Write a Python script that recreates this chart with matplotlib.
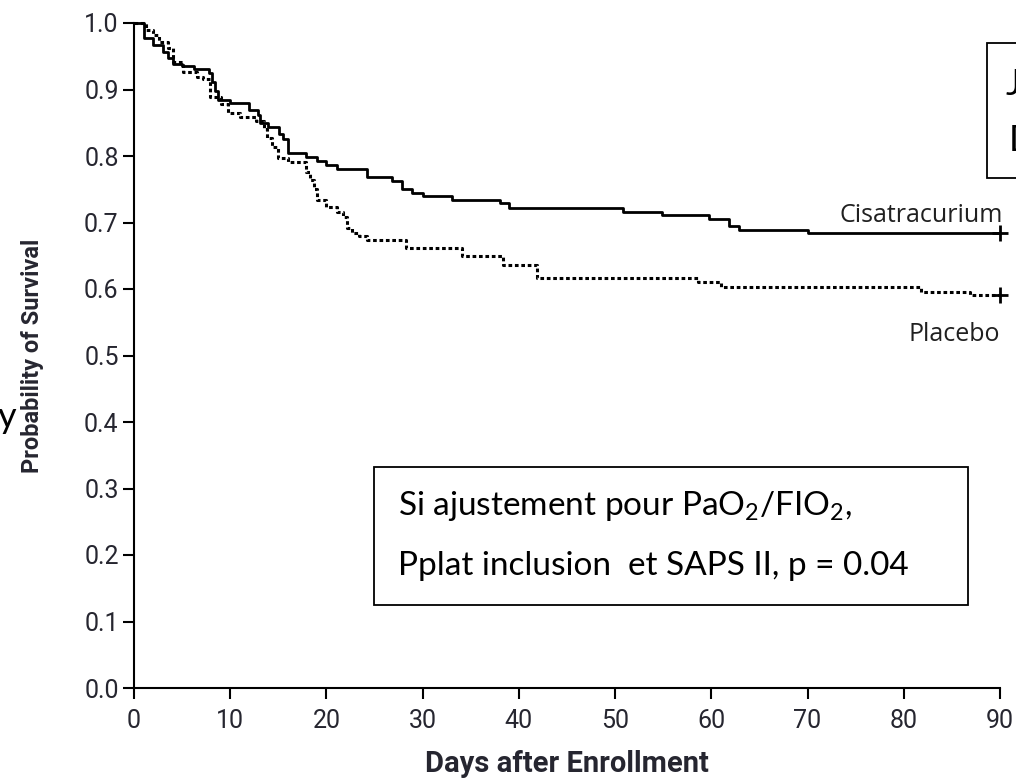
import matplotlib
matplotlib.use("Agg")
import matplotlib.pyplot as plt
from matplotlib.patches import Rectangle

plt.rcParams['mathtext.fontset'] = 'custom'
plt.rcParams['mathtext.rm'] = 'Lato'

# Kaplan-Meier steps (day, survival)
cisa_days = [0, 1.0, 2.0, 3.0, 3.5, 4.1, 5.0, 6.2, 7.8, 8.1, 8.4, 8.7, 10.0, 12.0, 12.9,
             13.1, 13.9, 15.1, 15.5, 16.0, 17.9, 19.0, 20.0, 21.1, 24.2, 26.8, 27.9,
             28.9, 30.0, 33.1, 38.0, 39.0, 50.8, 54.9, 59.8, 61.8, 62.9, 70.0, 90]
cisa_surv = [1.0, 0.977, 0.967, 0.957, 0.947, 0.939, 0.936, 0.931, 0.925, 0.912, 0.898,
             0.884, 0.880, 0.869, 0.862, 0.849, 0.844, 0.833, 0.826, 0.804, 0.799, 0.792,
             0.786, 0.780, 0.769, 0.762, 0.751, 0.745, 0.740, 0.734, 0.729, 0.722, 0.716,
             0.711, 0.706, 0.695, 0.689, 0.684, 0.684]

plac_days = [0, 1.2, 2.0, 2.6, 3.5, 4.1, 5.1, 6.5, 7.2, 7.9, 9.0, 9.8, 11.0, 12.7, 13.5,
             13.8, 14.3, 15.0, 16.0, 17.9, 18.3, 18.7, 19.0, 20.0, 21.1, 21.7, 22.1, 22.7,
             23.4, 24.2, 28.3, 34.1, 38.3, 41.9, 58.6, 61.0, 81.8, 86.9, 90]
plac_surv = [1.0, 0.989, 0.982, 0.972, 0.962, 0.942, 0.927, 0.919, 0.916, 0.889, 0.878,
             0.864, 0.859, 0.852, 0.840, 0.827, 0.814, 0.797, 0.791, 0.776, 0.764, 0.750,
             0.734, 0.724, 0.716, 0.709, 0.692, 0.684, 0.679, 0.674, 0.661, 0.649, 0.636,
             0.617, 0.611, 0.603, 0.596, 0.591, 0.591]

xticks = list(range(0, 91, 10))
yticks = [i / 10 for i in range(11)]
ytick_labels = ["%.1f" % v for v in yticks]

axis_font = ['Roboto', 'DejaVu Sans']
tick_col = '#262630'

fig = plt.figure(figsize=(10.16, 7.84), dpi=100)
ax = fig.add_axes([134 / 1016, 96 / 784, 866 / 1016, 665 / 784])

ax.step(cisa_days, cisa_surv, where='post', color='black', lw=2.0, clip_on=False)
ax.step(plac_days, plac_surv, where='post', color='black', lw=2.2,
        linestyle=(0, (1.2, 0.9)), clip_on=False)
ax.plot([cisa_days[-1]], [cisa_surv[-1]], marker='+', ms=11, mew=2, color='black', clip_on=False)
ax.plot([plac_days[-1]], [plac_surv[-1]], marker='+', ms=11, mew=2, color='black', clip_on=False)

ax.set_xlim(0, 90)
ax.set_ylim(0, 1.0)
ax.set_xticks(xticks)
ax.set_yticks(yticks)
ax.set_yticklabels(ytick_labels)
for s in ['top', 'right']:
    ax.spines[s].set_visible(False)
for s in ['left', 'bottom']:
    ax.spines[s].set_linewidth(1.5)
ax.tick_params(direction='out', length=8, width=1.5, colors='black', pad=3)
for lab in ax.get_xticklabels() + ax.get_yticklabels():
    lab.set_family(axis_font)
    lab.set_fontsize(18)
    lab.set_color(tick_col)
ax.tick_params(axis='x', pad=7)

ax.set_xlabel("Days after Enrollment", family=axis_font, fontsize=21, fontweight='bold', color=tick_col)
ax.set_ylabel("Probability of Survival", family=axis_font, fontsize=17, fontweight='bold', color=tick_col)
ax.xaxis.set_label_coords(0.5, -0.093)
ax.yaxis.set_label_coords(-0.104, 0.5)

ax.text(90.3, 0.700, "Cisatracurium", ha='right', va='baseline', fontsize=18,
        family='Open Sans', color='#202020')
ax.text(90.0, 0.522, "Placebo", ha='right', va='baseline', fontsize=18,
        family='Open Sans', color='#202020')

# boxed note
ax.add_patch(Rectangle((24.9, 0.125), 61.8, 0.208, facecolor='white', edgecolor='black',
                       lw=1.3, clip_on=False, zorder=3))
ax.text(27.4, 0.273, "Si ajustement pour PaO$_{\\mathrm{2}}$/FIO$_{\\mathrm{2}}$,",
        family='Lato', fontsize=24, va='center', ha='left', zorder=4)
ax.text(27.4, 0.184, "Pplat inclusion  et SAPS II, p = 0.04",
        family='Lato', fontsize=24, va='center', ha='left', zorder=4)

# cut-off box at the top right
ax.add_patch(Rectangle((88.6, 0.767), 10, 0.203, facecolor='white', edgecolor='black',
                       lw=1.3, clip_on=False, zorder=3))
ax.text(90.6, 0.907, "J", family='Lato', fontsize=26, va='center', ha='left', zorder=4, clip_on=False)
ax.text(90.9, 0.823, "D", family='Lato', fontsize=26, va='center', ha='left', zorder=4, clip_on=False)

# cut-off letter on the left edge
fig.text(16 / 1016, 1 - 418 / 784, "y", family='Lato', fontsize=26, ha='right', va='center')

fig.savefig("out.png", dpi=100)
